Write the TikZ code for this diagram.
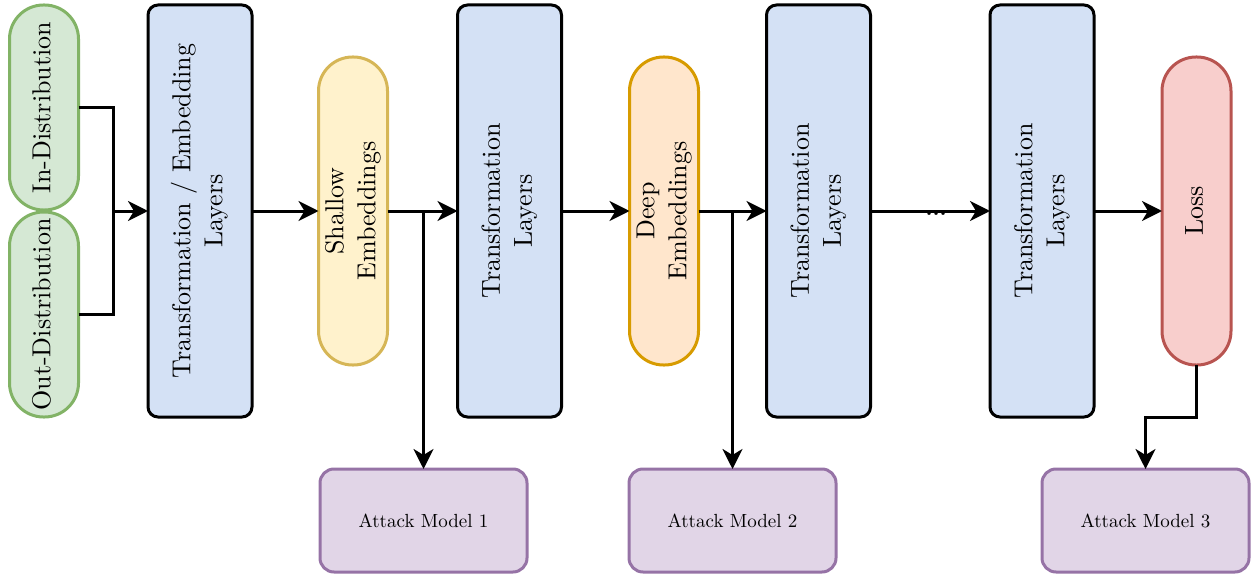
\documentclass[tikz,border=0pt]{standalone}
\usepackage{amsmath}
\usepackage{amssymb}
\usepackage{fontspec}
\setmainfont{lmroman10-regular}[Extension=.otf, BoldFont=lmroman10-bold]
\usepackage[dvipsnames]{xcolor}
\usepackage{tikz}
\usetikzlibrary{arrows.meta}
\definecolor{layerfill}{HTML}{D4E1F5}
\definecolor{datafill}{HTML}{D5E8D4}
\definecolor{dataline}{HTML}{82B366}
\definecolor{shallowfill}{HTML}{FFF2CC}
\definecolor{shallowline}{HTML}{D6B656}
\definecolor{deepfill}{HTML}{FFE6CC}
\definecolor{deepline}{HTML}{D79B00}
\definecolor{lossfill}{HTML}{F8CECC}
\definecolor{lossline}{HTML}{B85450}
\definecolor{attackfill}{HTML}{E1D5E7}
\definecolor{attackline}{HTML}{9673A6}
\newcommand{\vtext}[1]{\rotatebox{90}{\begin{tabular}{@{}c@{}}#1\end{tabular}}}

\begin{document}
\begin{tikzpicture}[x=1pt,y=-1pt,
  box/.style={rectangle, inner sep=0pt, outer sep=0pt, line width=3pt,
    font=\fontsize{26}{32}\selectfont},
  layer/.style={box, draw=black, fill=layerfill, rounded corners=10pt,
    minimum width=104pt, minimum height=412pt},
  pill/.style={box, rounded corners=34pt, minimum width=69pt},
  attack/.style={box, draw=attackline, fill=attackfill, rounded corners=14pt,
    minimum width=207pt, minimum height=103pt, font=\fontsize{19}{23}\selectfont},
  arr/.style={line width=3pt, -{Stealth[length=20pt,width=20pt,inset=6pt]}},
  wire/.style={line width=3pt}]
  \useasboundingbox (0,0) rectangle (1251,575);
  % inputs
  \node[pill, draw=dataline, fill=datafill, minimum height=205pt] (indist) at (44,107.5) {\vtext{In-Distribution}};
  \node[pill, draw=dataline, fill=datafill, minimum height=205pt] (outdist) at (44,314.5) {\vtext{Out-Distribution}};
  % main chain
  \node[layer] (tel) at (200,211) {\vtext{Transformation / Embedding\\Layers}};
  \node[pill, draw=shallowline, fill=shallowfill, minimum height=308pt] (shallow) at (353,211) {\vtext{Shallow\\Embeddings}};
  \node[layer] (trans1) at (509.5,211) {\vtext{Transformation\\Layers}};
  \node[pill, draw=deepline, fill=deepfill, minimum height=308pt] (deep) at (664,211) {\vtext{Deep\\Embeddings}};
  \node[layer] (trans2) at (818.5,211) {\vtext{Transformation\\Layers}};
  \node[layer] (trans3) at (1042,211) {\vtext{Transformation\\Layers}};
  \node[pill, draw=lossline, fill=lossfill, minimum height=308pt] (loss) at (1196.5,211) {\vtext{Loss}};
  % attack models
  \node[attack] (atk1) at (423.5,520.5) {Attack Model 1};
  \node[attack] (atk2) at (732.5,520.5) {Attack Model 2};
  \node[attack] (atk3) at (1145.5,520.5) {Attack Model 3};

  \coordinate (join) at (113,211);
  \draw[wire] (indist.east) -| (join);
  \draw[wire] (outdist.east) -| (join);
  \draw[arr] (join) -- (tel.west);
  \draw[arr] (tel.east) -- (shallow.west);
  \draw[arr] (shallow.east) -- (trans1.west);
  \draw[arr] (shallow.east -| atk1.north) -- (atk1.north);
  \draw[arr] (trans1.east) -- (deep.west);
  \draw[arr] (deep.east) -- (trans2.west);
  \draw[arr] (deep.east -| atk2.north) -- (atk2.north);
  \draw[arr] (trans2.east) -- node[pos=0.55, inner sep=0pt, yshift=-3pt, font=\fontsize{22}{26}\selectfont\bfseries] (dots) {...} (trans3.west);
  \draw[arr] (trans3.east) -- (loss.west);
  \draw[arr] (loss.south) -- ++(0,52) -| (atk3.north);
\end{tikzpicture}
\end{document}
